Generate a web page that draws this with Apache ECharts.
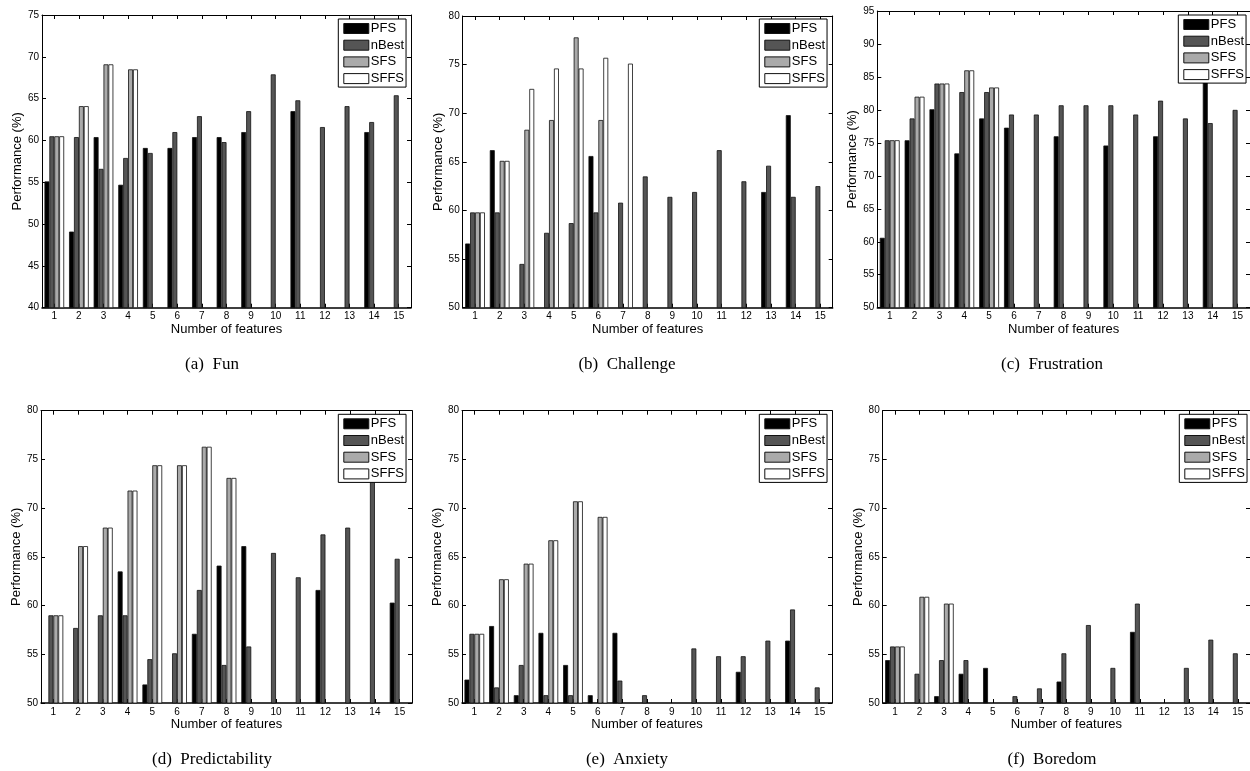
<!DOCTYPE html>
<html>
<head>
<meta charset="utf-8">
<script src="https://cdn.jsdelivr.net/npm/echarts@6/dist/echarts.min.js"></script>
<style>
html,body{margin:0;padding:0;background:#fff;}
#chart{width:1250px;height:771px;}
</style>
</head>
<body>
<div id="chart"></div>
<script>
// ---------- data ----------
const categories = ['1','2','3','4','5','6','7','8','9','10','11','12','13','14','15'];
const seriesNames = ['PFS','nBest','SFS','SFFS'];

// (a) Fun
const funPFS   = [55.1, 49.1, 60.4, 54.7, 59.1, 59.1, 60.4, 60.4, 61.0, null, 63.5, null, null, 61.0, null];
const funNBest = [60.5, 60.4, 56.6, 57.9, 58.5, 61.0, 62.9, 59.8, 63.5, 67.9, 64.8, 61.6, 64.1, 62.2, 65.4];
const funSFS   = [60.5, 64.1, 69.1, 68.5, null, null, null, null, null, null, null, null, null, null, null];
const funSFFS  = [60.5, 64.1, 69.1, 68.5, null, null, null, null, null, null, null, null, null, null, null];

// (b) Challenge
const chaPFS   = [56.6, 66.2, null, null, null, 65.6, null, null, null, null, null, null, 61.9, 69.8, null];
const chaNBest = [59.8, 59.8, 54.5, 57.7, 58.7, 59.8, 60.8, 63.5, 61.4, 61.9, 66.2, 63.0, 64.6, 61.4, 62.5];
const chaSFS   = [59.8, 65.1, 68.3, 69.3, 77.8, 69.3, null, null, null, null, null, null, null, null, null];
const chaSFFS  = [59.8, 65.1, 72.5, 74.6, 74.6, 75.7, 75.1, null, null, null, null, null, null, null, null];

// (c) Frustration
const fruPFS   = [60.6, 75.4, 80.1, 73.4, 78.7, 77.3, null, 76.0, null, 74.6, null, 76.0, null, 86.0, null];
const fruNBest = [75.4, 78.7, 84.0, 82.7, 82.7, 79.3, 79.3, 80.7, 80.7, 80.7, 79.3, 81.4, 78.7, 78.0, 80.0];
const fruSFS   = [75.4, 82.0, 84.0, 86.0, 83.4, null, null, null, null, null, null, null, null, null, null];
const fruSFFS  = [75.4, 82.0, 84.0, 86.0, 83.4, null, null, null, null, null, null, null, null, null, null];

// (d) Predictability
const prePFS   = [null, null, null, 63.5, 51.9, null, 57.1, 64.1, 66.1, null, null, 61.6, null, null, 60.3];
const preNBest = [59.0, 57.7, 59.0, 59.0, 54.5, 55.1, 61.6, 53.9, 55.8, 65.4, 62.9, 67.3, 68.0, 74.0, 64.8];
const preSFS   = [59.0, 66.1, 68.0, 71.8, 74.4, 74.4, 76.3, 73.1, null, null, null, null, null, null, null];
const preSFFS  = [59.0, 66.1, 68.0, 71.8, 74.4, 74.4, 76.3, 73.1, null, null, null, null, null, null, null];

// (e) Anxiety
const anxPFS   = [52.4, 57.9, 50.8, 57.2, 53.9, 50.8, 57.2, null, null, null, null, 53.2, null, 56.4, null];
const anxNBest = [57.1, 51.6, 53.9, 50.8, 50.8, null, 52.3, 50.8, null, 55.6, 54.8, 54.8, 56.4, 59.6, 51.6];
const anxSFS   = [57.1, 62.7, 64.3, 66.7, 70.7, 69.1, null, null, null, null, null, null, null, null, null];
const anxSFFS  = [57.1, 62.7, 64.3, 66.7, 70.7, 69.1, null, null, null, null, null, null, null, null, null];

// (f) Boredom
const borPFS   = [54.4, null, 50.7, 53.0, 53.6, null, null, 52.2, null, null, 57.3, null, null, null, null];
const borNBest = [55.8, 53.0, 54.4, 54.4, null, 50.7, 51.5, 55.1, 58.0, 53.6, 60.2, null, 53.6, 56.5, 55.1];
const borSFS   = [55.8, 60.9, 60.2, null, null, null, null, null, null, null, null, null, null, null, null];
const borSFFS  = [55.8, 60.9, 60.2, null, null, null, null, null, null, null, null, null, null, null, null];

const captions = ['(a)\u2002Fun', '(b)\u2002Challenge', '(c)\u2002Frustration',
                  '(d)\u2002Predictability', '(e)\u2002Anxiety', '(f)\u2002Boredom'];
const yTitle = 'Performance (%)';
const xTitle = 'Number of features';

// ---------- layout / style ----------
const panelData = [
  [funPFS, funNBest, funSFS, funSFFS],
  [chaPFS, chaNBest, chaSFS, chaSFFS],
  [fruPFS, fruNBest, fruSFS, fruSFFS],
  [prePFS, preNBest, preSFS, preSFFS],
  [anxPFS, anxNBest, anxSFS, anxSFFS],
  [borPFS, borNBest, borSFS, borSFFS]
];
const layout = [
  {left: 42,    top: 15,    width: 369, height: 292.7, yMin: 40, yMax: 75, lg: [338.3, 19],    cap: [212, 365],  nameGap: 17},
  {left: 462.7, top: 16,    width: 370, height: 291.7, yMin: 50, yMax: 80, lg: [759.3, 19],    cap: [627, 365],  nameGap: 18},
  {left: 877.3, top: 11,    width: 375, height: 296.7, yMin: 50, yMax: 95, lg: [1178.3, 15],   cap: [1052, 365], nameGap: 12},
  {left: 41,    top: 410.7, width: 371, height: 292.3, yMin: 50, yMax: 80, lg: [338.3, 414.3], cap: [212, 760],  nameGap: 17},
  {left: 462,   top: 410.7, width: 370, height: 292.3, yMin: 50, yMax: 80, lg: [759.3, 414.3], cap: [627, 760],  nameGap: 18},
  {left: 882.7, top: 410.7, width: 368.5, height: 292.3, yMin: 50, yMax: 80, lg: [1179.3, 414.3], cap: [1052, 760], nameGap: 18}
];
const colors = ['#000000', '#555555', '#aaaaaa', '#ffffff'];
const SANS = '"Liberation Sans", Arial, Helvetica, sans-serif';
const SERIF = '"Liberation Serif", "Times New Roman", serif';

const grid = [], xAxis = [], yAxis = [], series = [], legend = [], graphic = [];

layout.forEach((L, i) => {
  grid.push({left: L.left, top: L.top, width: L.width, height: L.height, containLabel: false});
  const lineStyle = {color: '#000', width: 1};
  xAxis.push({
    type: 'category', gridIndex: i, data: categories, position: 'bottom',
    axisLine: {show: true, lineStyle: {color: '#000', width: 1.5}},
    axisTick: {show: true, inside: true, alignWithLabel: true, length: 4, lineStyle},
    axisLabel: {show: true, fontSize: 10, fontFamily: SANS, color: '#000', margin: 4},
    splitLine: {show: false},
    name: xTitle, nameLocation: 'middle', nameGap: 13,
    nameTextStyle: {fontSize: 13, fontFamily: SANS, color: '#000', verticalAlign: 'top'}
  });
  xAxis.push({
    type: 'category', gridIndex: i, data: categories, position: 'top',
    axisLine: {show: true, lineStyle},
    axisTick: {show: true, inside: true, alignWithLabel: true, length: 4, lineStyle},
    axisLabel: {show: false}, splitLine: {show: false}
  });
  yAxis.push({
    type: 'value', gridIndex: i, position: 'left', min: L.yMin, max: L.yMax, interval: 5,
    axisLine: {show: true, lineStyle},
    axisTick: {show: true, inside: true, length: 4, lineStyle},
    axisLabel: {show: true, fontSize: 10, fontFamily: SANS, color: '#000', margin: 3},
    splitLine: {show: false},
    name: yTitle, nameLocation: 'middle', nameRotate: 90, nameGap: L.nameGap,
    nameTextStyle: {fontSize: 13, fontFamily: SANS, color: '#000'}
  });
  yAxis.push({
    type: 'value', gridIndex: i, position: 'right', min: L.yMin, max: L.yMax, interval: 5,
    axisLine: {show: true, lineStyle},
    axisTick: {show: true, inside: true, length: 4, lineStyle},
    axisLabel: {show: false}, splitLine: {show: false}
  });
  panelData[i].forEach((vals, s) => {
    series.push({
      type: 'bar', name: seriesNames[s], data: vals,
      xAxisIndex: 2 * i, yAxisIndex: 2 * i,
      barCategoryGap: '20%', barGap: '0%',
      itemStyle: {color: colors[s], borderColor: '#111', borderWidth: 0.8},
      emphasis: {disabled: true},
      animation: false, clip: true
    });
  });
  legend.push({
    data: seriesNames, orient: 'vertical', left: L.lg[0], top: L.lg[1],
    itemWidth: 25, itemHeight: 10, itemGap: 3.7,
    padding: [3, 2, 2, 5],
    icon: 'rect',
    backgroundColor: '#fff', borderColor: '#000', borderWidth: 1, borderRadius: 0,
    itemStyle: {borderColor: '#111', borderWidth: 1},
    textStyle: {fontSize: 13, fontFamily: SANS, color: '#000', padding: [0, 0, 0, -3]},
    selectedMode: false, z: 10
  });
  graphic.push({
    type: 'text', x: L.cap[0], y: L.cap[1], z: 10,
    style: {text: captions[i], fontSize: 17, fontFamily: SERIF, fill: '#000',
            align: 'center', verticalAlign: 'middle', textAlign: 'center', textVerticalAlign: 'middle'}
  });
});

const chart = echarts.init(document.getElementById('chart'), null, {renderer: 'canvas'});
chart.setOption({
  animation: false,
  backgroundColor: '#ffffff',
  grid, xAxis, yAxis, series, legend, graphic,
  tooltip: {show: false}
});
</script>
</body>
</html>
